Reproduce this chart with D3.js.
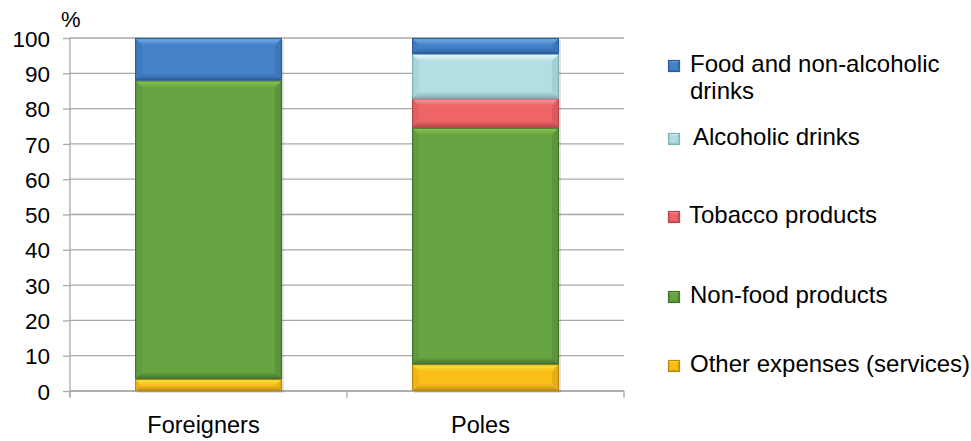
<!DOCTYPE html>
<html>
<head>
<meta charset="utf-8">
<script src="https://cdn.jsdelivr.net/npm/d3@7"></script>
<style>
  html, body { margin: 0; padding: 0; background: #fff; }
  svg { display: block; font-family: "Liberation Sans", Arial, sans-serif; }
</style>
</head>
<body>
<svg id="chart" width="971" height="441"></svg>
<script>
// Structure of spending, in % of total
const categories = ["Foreigners", "Poles"];
const seriesNames = [
  "Other expenses (services)",
  "Non-food products",
  "Tobacco products",
  "Alcoholic drinks",
  "Food and non-alcoholic drinks"
];
const otherExpenses = [3.4, 7.6];
const nonFood = [84.6, 67.0];
const tobacco = [0, 8.3];
const alcohol = [0, 12.6];
const foodDrinks = [12.0, 4.5];
const yTicks = [0, 10, 20, 30, 40, 50, 60, 70, 80, 90, 100];

// main / light (top bevel) / dark (bottom bevel, outline)
const palette = {
  "Other expenses (services)":     { id: "oth", main: "#fbbf1a", light: "#f2ea46", dark: "#b98a12" },
  "Non-food products":             { id: "nf",  main: "#67a543", light: "#8fc94f", dark: "#44712d" },
  "Tobacco products":              { id: "tob", main: "#ef6467", light: "#f6a2a3", dark: "#b3464a" },
  "Alcoholic drinks":              { id: "alc", main: "#b3dfe3", light: "#f4fbfc", dark: "#7eb0b5" },
  "Food and non-alcoholic drinks": { id: "food", main: "#4582c9", light: "#76b4ea", dark: "#2b5f9c" }
};

const rows = categories.map((c, i) => ({
  category: c,
  "Other expenses (services)": otherExpenses[i],
  "Non-food products": nonFood[i],
  "Tobacco products": tobacco[i],
  "Alcoholic drinks": alcohol[i],
  "Food and non-alcoholic drinks": foodDrinks[i]
}));

const svg = d3.select("#chart");
const plot = { left: 70, right: 624, top: 38, bottom: 391 };

// gradients for the bevel faces
const defs = svg.append("defs");
Object.values(palette).forEach(col => {
  const gt = defs.append("linearGradient").attr("id", `top-${col.id}`)
    .attr("x1", 0).attr("y1", 0).attr("x2", 0).attr("y2", 1);
  gt.append("stop").attr("offset", 0).attr("stop-color", col.light);
  gt.append("stop").attr("offset", 1).attr("stop-color", col.main);
  const gb = defs.append("linearGradient").attr("id", `bot-${col.id}`)
    .attr("x1", 0).attr("y1", 0).attr("x2", 0).attr("y2", 1);
  gb.append("stop").attr("offset", 0).attr("stop-color", col.main);
  gb.append("stop").attr("offset", 1).attr("stop-color", col.dark);
});

const x = d3.scaleBand()
  .domain(categories)
  .range([plot.left, plot.right])
  .paddingInner(0.47)
  .paddingOuter(0.235);

const y = d3.scaleLinear().domain([0, 100]).range([plot.bottom, plot.top]);

// gridlines
svg.append("g")
  .selectAll("line")
  .data(yTicks)
  .join("line")
  .attr("x1", plot.left).attr("x2", plot.right)
  .attr("y1", d => y(d)).attr("y2", d => y(d))
  .attr("stroke", "#a8a8a8").attr("stroke-width", 1.3);

// y axis
const yAxis = svg.append("g")
  .attr("transform", `translate(${plot.left},0)`)
  .call(d3.axisLeft(y).tickValues(yTicks).tickSize(7).tickPadding(13));
yAxis.select(".domain").attr("stroke", "#a8a8a8").attr("stroke-width", 1.3)
  .attr("d", `M-0,${plot.top}V${plot.bottom + 6}`);
yAxis.selectAll(".tick line").attr("stroke", "#a8a8a8").attr("stroke-width", 1.3);
yAxis.selectAll(".tick text")
  .attr("fill", "#000").style("font-size", "22.5px").attr("dy", "0.36em");

svg.append("text")
  .attr("x", 61).attr("y", 27)
  .style("font-size", "22px")
  .text("%");

// x axis: baseline with ticks at band boundaries
svg.append("line")
  .attr("x1", plot.left).attr("x2", plot.right)
  .attr("y1", plot.bottom).attr("y2", plot.bottom)
  .attr("stroke", "#a8a8a8").attr("stroke-width", 1.3);
const bounds = [plot.left, ...categories.slice(1).map(c => x(c) - x.step() * x.paddingInner() / 2), plot.right];
svg.append("g").selectAll("line")
  .data(bounds)
  .join("line")
  .attr("x1", d => d).attr("x2", d => d)
  .attr("y1", plot.bottom).attr("y2", plot.bottom + 7)
  .attr("stroke", "#a8a8a8").attr("stroke-width", 1.3);

svg.append("g").selectAll("text")
  .data(categories)
  .join("text")
  .attr("x", d => x(d) + x.bandwidth() / 2 - 5)
  .attr("y", 433)
  .attr("text-anchor", "middle")
  .style("font-size", "23.5px")
  .text(d => d);

// stacked bevelled bars
const stacked = d3.stack().keys(seriesNames)(rows);

function bevel(g, bx, by, bw, bh, col, depth) {
  const d = Math.min(depth, bh / 2, bw / 2);
  g.append("rect").attr("x", bx).attr("y", by).attr("width", bw).attr("height", bh)
    .attr("fill", col.main);
  const poly = (pts, fill, op) => g.append("polygon")
    .attr("points", pts.map(p => p.join(",")).join(" "))
    .attr("fill", fill).attr("opacity", op);
  poly([[bx, by], [bx + d, by + d], [bx + d, by + bh - d], [bx, by + bh]], col.dark, 0.18);
  poly([[bx + bw, by], [bx + bw - d, by + d], [bx + bw - d, by + bh - d], [bx + bw, by + bh]], col.dark, 0.3);
  poly([[bx, by], [bx + bw, by], [bx + bw - d, by + d], [bx + d, by + d]], `url(#top-${col.id})`, 1);
  poly([[bx, by + bh], [bx + bw, by + bh], [bx + bw - d, by + bh - d], [bx + d, by + bh - d]], `url(#bot-${col.id})`, 1);
  g.append("rect").attr("x", bx + 0.5).attr("y", by + 0.5).attr("width", bw - 1).attr("height", Math.max(0, bh - 1))
    .attr("fill", "none").attr("stroke", col.dark).attr("stroke-width", 1.2);
}

// soft drop shadow behind each bar
svg.append("g").selectAll("rect")
  .data(categories)
  .join("rect")
  .attr("x", d => x(d) + 2).attr("y", y(100) + 2)
  .attr("width", x.bandwidth()).attr("height", y(0) - y(100))
  .attr("fill", "#000").attr("opacity", 0.12);

const barsG = svg.append("g");
stacked.forEach(layer => {
  const col = palette[layer.key];
  layer.forEach((seg, i) => {
    const v = seg[1] - seg[0];
    if (v <= 0) return;
    const top = y(seg[1]), bot = y(seg[0]);
    bevel(barsG, x(categories[i]), top, x.bandwidth(), bot - top, col, 7);
  });
});

// legend
const legendItems = [
  { key: "Food and non-alcoholic drinks", lines: ["Food and non-alcoholic", "drinks"], y: 72, tx: 690 },
  { key: "Alcoholic drinks", lines: ["Alcoholic drinks"], y: 145, tx: 693 },
  { key: "Tobacco products", lines: ["Tobacco products"], y: 223, tx: 689 },
  { key: "Non-food products", lines: ["Non-food products"], y: 303, tx: 690 },
  { key: "Other expenses (services)", lines: ["Other expenses (services)"], y: 372, tx: 690 }
];
const lg = svg.append("g");
legendItems.forEach(item => {
  const g = lg.append("g");
  bevel(g, 668, item.y - 12, 12, 12, palette[item.key], 3);
  const t = g.append("text").attr("x", item.tx).attr("y", item.y).style("font-size", "24px");
  item.lines.forEach((ln, k) => {
    t.append("tspan").attr("x", item.tx).attr("dy", k === 0 ? 0 : 26.5).text(ln);
  });
});
</script>
</body>
</html>
